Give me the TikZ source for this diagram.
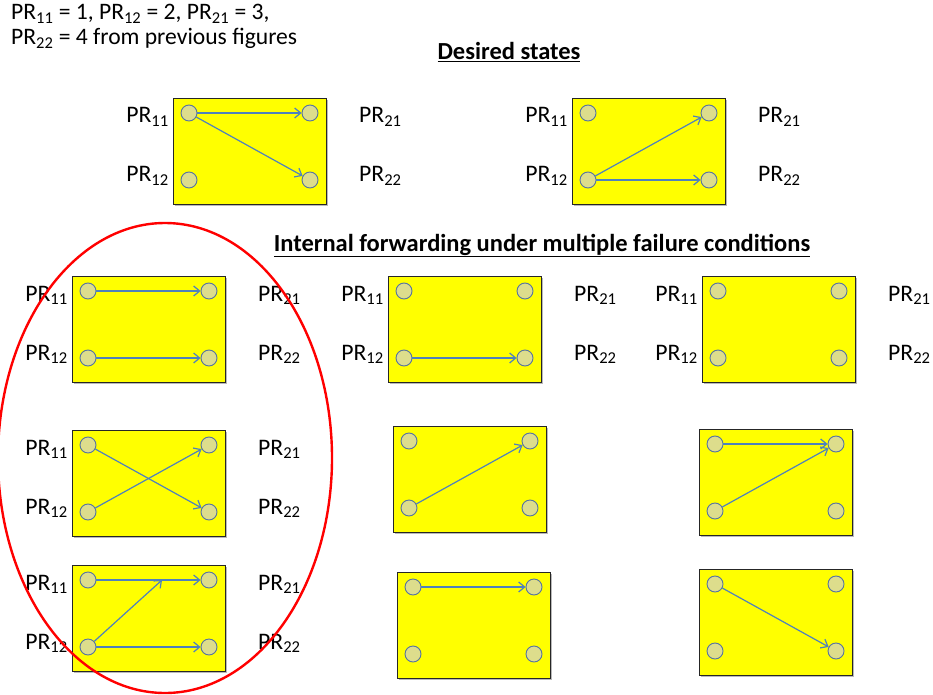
\documentclass[tikz,border=0pt]{standalone}
\usepackage{fontspec}
\setmainfont{Carlito}
\usetikzlibrary{arrows.meta,calc}
\definecolor{boxyellow}{RGB}{255,255,0}
\definecolor{dotfill}{RGB}{221,221,140}
\definecolor{dotedge}{RGB}{85,115,160}
\definecolor{arrowblue}{RGB}{79,129,189}
\definecolor{ovalred}{RGB}{255,0,0}
\tikzset{
  prdot/.style={circle,draw=dotedge,fill=dotfill,line width=0.9pt,minimum size=16pt,inner sep=0pt},
  fwd/.style={draw=arrowblue,line width=1.2pt,-{Straight Barb[length=6pt,width=10pt]}},
  lbl/.style={font=\fontsize{23.7}{26}\selectfont,inner sep=0pt},
  hdr/.style={font=\fontsize{23.6}{26}\selectfont,inner sep=0pt},
  ttl/.style={font=\fontsize{24.5}{27}\selectfont\bfseries,inner sep=0pt},
  boxfill/.style={fill=boxyellow,draw=black!85,line width=0.9pt},
  boxshadow/.style={fill=gray!55},
}
\newcommand\prbox[3]{%
  \fill[boxshadow] (#2+2,#3+2) rectangle (#2+155,#3+108);
  \draw[boxfill] (#2,#3) rectangle (#2+153,#3+106);
  \node[prdot] (#1a) at (#2+16,#3+15) {};
  \node[prdot] (#1b) at (#2+137,#3+15) {};
  \node[prdot] (#1c) at (#2+16,#3+82) {};
  \node[prdot] (#1d) at (#2+137,#3+82) {};
}
\newcommand\prlabels[3]{%
  \node[lbl,anchor=base east] (#1l11) at (#2-4,#3+25) {PR\textsubscript{11}};
  \node[lbl,anchor=base east] (#1l12) at (#2-4,#3+84) {PR\textsubscript{12}};
  \node[lbl,anchor=base west] (#1l21) at (#2+186,#3+25) {PR\textsubscript{21}};
  \node[lbl,anchor=base west] (#1l22) at (#2+186,#3+84) {PR\textsubscript{22}};
}
\begin{document}
\begin{tikzpicture}[x=1pt,y=-1pt]
\useasboundingbox (0,0) rectangle (933,695);
% header
\node[hdr,anchor=base west] (h1) at (11,20) {PR\textsubscript{11} = 1, PR\textsubscript{12} = 2, PR\textsubscript{21} = 3,};
\node[hdr,anchor=base west] (h2) at (11,45) {PR\textsubscript{22} = 4 from previous figures};
\node[ttl,anchor=base] (t1) at (509,60) {\underline{Desired states}};
\node[ttl,anchor=base] (t2) at (542,251) {\underline{Internal forwarding under multiple failure conditions}};
% desired states
\prbox{D}{173}{98}\prlabels{D}{173}{98}
\draw[fwd] (Da) -- (Db);
\draw[fwd] (Da) -- (Dd);
\prbox{E}{572}{98}\prlabels{E}{572}{98}
\draw[fwd] (Ec) -- (Eb);
\draw[fwd] (Ec) -- (Ed);
% row 1
\prbox{A}{72}{276}\prlabels{A}{72}{276}
\draw[fwd] (Aa) -- (Ab);
\draw[fwd] (Ac) -- (Ad);
\prbox{B}{388}{276}\prlabels{B}{388}{276}
\draw[fwd] (Bc) -- (Bd);
\prbox{C}{702}{276}\prlabels{C}{702}{276}
% row 2
\prbox{F}{72}{430}\prlabels{F}{72}{430}
\draw[fwd] (Fa) -- (Fd);
\draw[fwd] (Fc) -- (Fb);
\prbox{G}{393}{426}
\draw[fwd] (Gc) -- (Gb);
\prbox{H}{699}{429}
\draw[fwd] (Ha) -- (Hb);
\draw[fwd] (Hc) -- (Hb);
% row 3
\prbox{J}{72}{565}\prlabels{J}{72}{565}
\draw[fwd] (Ja) -- (Jb);
\draw[fwd] (Jc) -- (Jd);
\coordinate (Jm) at (162,580);
\draw[fwd] (Jc) -- (Jm);
\prbox{K}{397}{572}
\draw[fwd] (Ka) -- (Kb);
\prbox{L}{699}{569}
\draw[fwd] (La) -- (Ld);
% red oval
\draw[ovalred,line width=2.4pt] (165,458) ellipse [x radius=167,y radius=235];
\end{tikzpicture}
\end{document}
